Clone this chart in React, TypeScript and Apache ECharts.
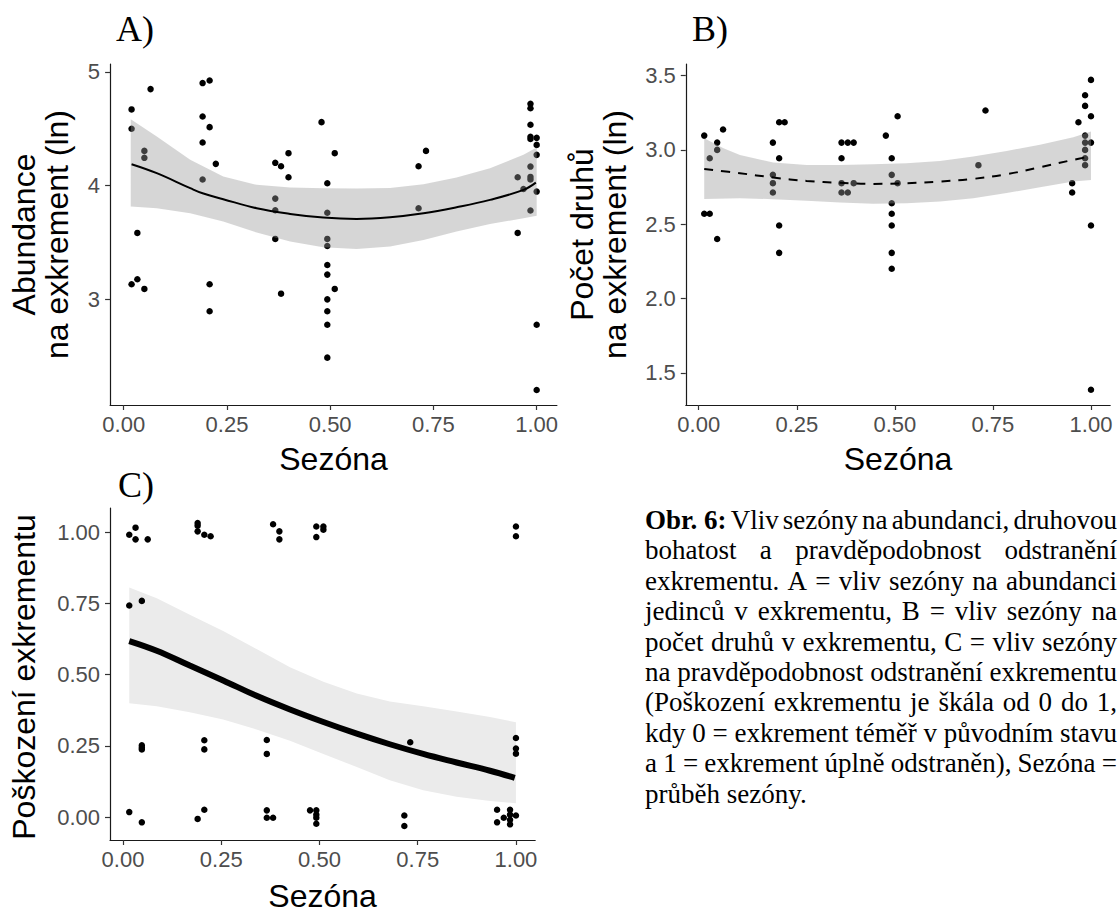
import React, { useEffect, useRef } from "react";
import * as echarts from "echarts";

// ---------------- data ----------------
const xTicks = [0, 0.25, 0.5, 0.75, 1];
const yTicksA = [3, 4, 5];
const yTicksB = [1.5, 2.0, 2.5, 3.0, 3.5];
const yTicksC = [0, 0.25, 0.5, 0.75, 1];

// Panel A: season vs abundance (ln)
const pointsA = [
  [0.019, 4.67], [0.019, 4.5], [0.05, 4.305], [0.05, 4.244], [0.065, 4.849], [0.033, 3.583], [0.019, 3.131], [0.033, 3.175], [0.05, 3.09],
  [0.191, 4.902], [0.208, 4.925], [0.191, 4.608], [0.208, 4.514], [0.191, 4.379], [0.223, 4.191], [0.191, 4.053], [0.208, 3.131], [0.208, 2.893],
  [0.367, 4.2], [0.381, 4.17], [0.399, 4.285], [0.399, 4.073], [0.367, 3.885], [0.367, 3.783], [0.367, 3.53], [0.381, 3.048],
  [0.479, 4.558], [0.511, 4.285], [0.493, 4.02], [0.493, 3.76], [0.493, 3.53], [0.493, 3.468], [0.493, 3.3], [0.493, 3.216], [0.511, 3.09], [0.493, 2.998], [0.493, 2.893], [0.493, 2.775], [0.493, 2.485],
  [0.714, 4.17], [0.732, 4.305], [0.714, 3.8],
  [0.954, 4.073], [0.954, 3.583], [0.968, 3.97], [0.985, 4.72], [0.985, 4.68], [0.985, 4.535], [0.985, 4.43], [0.985, 4.41], [0.985, 4.167], [0.985, 4.076], [0.985, 4.053], [0.985, 3.78],
  [1.0, 4.42], [1.0, 4.358], [1.0, 4.27], [1.0, 3.947], [1.0, 2.775], [1.0, 2.2],
];
const fitA = [
  [0.019, 4.188], [0.08, 4.109], [0.161, 3.977], [0.191, 3.932], [0.241, 3.88], [0.322, 3.8], [0.403, 3.75], [0.483, 3.718],
  [0.564, 3.706], [0.645, 3.721], [0.726, 3.756], [0.806, 3.809], [0.887, 3.874], [0.968, 3.962], [0.998, 4.026],
];
const upperA = [
  [0.017, 4.584], [0.08, 4.432], [0.161, 4.226], [0.241, 4.079], [0.322, 4.006], [0.403, 3.982], [0.483, 3.976], [0.564, 3.974],
  [0.645, 3.979], [0.726, 4.012], [0.806, 4.07], [0.887, 4.153], [0.968, 4.27], [1.0, 4.335],
];
const lowerA = [
  [0.017, 3.815], [0.08, 3.8], [0.161, 3.756], [0.241, 3.683], [0.322, 3.586], [0.403, 3.507], [0.483, 3.457], [0.564, 3.442],
  [0.645, 3.463], [0.726, 3.521], [0.806, 3.595], [0.887, 3.662], [0.968, 3.712], [1.0, 3.733],
];

// Panel B: season vs species count (ln)
const pointsB = [
  [0.014, 3.096], [0.028, 2.944], [0.047, 3.049], [0.047, 3.0], [0.062, 3.137], [0.014, 2.57], [0.028, 2.57], [0.047, 2.4],
  [0.189, 3.049], [0.205, 3.186], [0.219, 3.186], [0.205, 2.944], [0.189, 2.832], [0.189, 2.776], [0.189, 2.713], [0.205, 2.491], [0.205, 2.307],
  [0.364, 3.049], [0.38, 3.049], [0.395, 3.049], [0.364, 2.944], [0.364, 2.776], [0.395, 2.776], [0.364, 2.713], [0.38, 2.713],
  [0.477, 3.096], [0.507, 3.226], [0.492, 2.944], [0.492, 2.832], [0.507, 2.776], [0.492, 2.641], [0.492, 2.57], [0.492, 2.491], [0.492, 2.307], [0.492, 2.2],
  [0.731, 3.265], [0.713, 2.897],
  [0.952, 2.776], [0.952, 2.713], [0.968, 3.186], [0.985, 3.368], [0.985, 3.296], [0.985, 3.096], [0.985, 3.049], [0.985, 3.0], [0.985, 2.944], [0.985, 2.897],
  [1.0, 3.471], [1.0, 3.226], [1.0, 3.049], [1.0, 2.491], [1.0, 1.386],
];
const fitB = [
  [0.014, 2.872], [0.105, 2.843], [0.19, 2.814], [0.275, 2.791], [0.36, 2.778], [0.445, 2.771], [0.53, 2.776],
  [0.615, 2.787], [0.7, 2.805], [0.785, 2.836], [0.87, 2.883], [0.955, 2.933], [0.997, 2.955],
];
const upperB = [
  [0.014, 3.078], [0.063, 3.011], [0.105, 2.966], [0.19, 2.915], [0.275, 2.899], [0.36, 2.899], [0.445, 2.904], [0.53, 2.91],
  [0.615, 2.926], [0.7, 2.955], [0.785, 2.993], [0.87, 3.034], [0.955, 3.085], [1.0, 3.123],
];
const lowerB = [
  [0.014, 2.67], [0.105, 2.675], [0.19, 2.668], [0.275, 2.657], [0.36, 2.646], [0.445, 2.637], [0.53, 2.641],
  [0.615, 2.652], [0.7, 2.675], [0.785, 2.709], [0.87, 2.749], [0.955, 2.787], [1.0, 2.798],
];

// Panel C: season vs damage of excrement
const pointsC = [
  [0.016, 0.991], [0.032, 1.016], [0.032, 0.975], [0.063, 0.975], [0.016, 0.743], [0.048, 0.759], [0.048, 0.252], [0.048, 0.244], [0.048, 0.238], [0.016, 0.018], [0.048, -0.018],
  [0.19, 1.032], [0.19, 1.023], [0.19, 1.003], [0.207, 0.991], [0.223, 0.986], [0.207, 0.27], [0.207, 0.238], [0.19, -0.006], [0.207, 0.026],
  [0.382, 1.028], [0.398, 1.003], [0.398, 0.975], [0.366, 0.271], [0.366, 0.222], [0.366, 0.024], [0.366, -0.002], [0.382, -0.002],
  [0.492, 1.02], [0.492, 0.983], [0.51, 1.02], [0.51, 1.009], [0.476, 0.024], [0.492, 0.024], [0.492, 0.009], [0.492, -0.002], [0.492, -0.023],
  [0.731, 0.263], [0.716, 0.006], [0.716, -0.031],
  [1.0, 1.02], [1.0, 0.986], [1.0, 0.278], [1.0, 0.241], [1.0, 0.223], [0.952, 0.026], [0.952, -0.018], [0.969, -0.002],
  [0.985, 0.026], [0.985, 0.009], [0.985, -0.009], [0.985, -0.025], [1.0, 0.006],
];
const fitC = [
  [0.016, 0.618], [0.086, 0.584], [0.17, 0.532], [0.255, 0.48], [0.34, 0.426], [0.425, 0.378], [0.51, 0.334],
  [0.595, 0.293], [0.679, 0.256], [0.764, 0.222], [0.849, 0.192], [0.934, 0.163], [0.997, 0.138],
];
const upperC = [
  [0.016, 0.806], [0.086, 0.768], [0.17, 0.71], [0.255, 0.653], [0.34, 0.59], [0.425, 0.526], [0.51, 0.475],
  [0.595, 0.434], [0.679, 0.406], [0.764, 0.389], [0.849, 0.371], [0.934, 0.352], [1.0, 0.333],
];
const lowerC = [
  [0.016, 0.4], [0.086, 0.389], [0.17, 0.368], [0.255, 0.343], [0.34, 0.308], [0.425, 0.268], [0.51, 0.222],
  [0.595, 0.176], [0.679, 0.13], [0.764, 0.095], [0.849, 0.072], [0.934, 0.057], [1.0, 0.049],
];

const xTitle = "Sezóna";
const yTitleA = "Abundance\nna exkrement (ln)";
const yTitleB = "Počet druhů\nna exkrement (ln)";
const yTitleC = "Poškození exkrementu";
const panelLabels = ["A)", "B)", "C)"];

const captionBold = "Obr. 6:";
const captionLines = [
  "Obr. 6: Vliv sezóny na abundanci, druhovou",
  "bohatost a pravděpodobnost odstranění",
  "exkrementu. A = vliv sezóny na abundanci",
  "jedinců v exkrementu, B = vliv sezóny na",
  "počet druhů v exkrementu, C = vliv sezóny",
  "na pravděpodobnost odstranění exkrementu",
  "(Poškození exkrementu je škála od 0 do 1,",
  "kdy 0 = exkrement téměř v původním stavu",
  "a 1 = exkrement úplně odstraněn), Sezóna =",
  "průběh sezóny.",
];

// ---------------- styling ----------------
const SANS = '"Liberation Sans", Arial, sans-serif';
const SERIF = '"Liberation Serif", "Times New Roman", serif';
const TICK_COLOR = "#4d4d4d";

function makeX(gridIndex: number, nameGap: number) {
  return {
    type: "value",
    gridIndex,
    min: -0.033,
    max: 1.049,
    name: xTitle,
    nameLocation: "middle",
    nameGap,
    nameTextStyle: { fontSize: 32, color: "#000", fontFamily: SANS },
    axisLine: { show: true, onZero: false, lineStyle: { color: "#1a1a1a", width: 1.2 } },
    axisTick: { show: true, length: 5, inside: false, customValues: xTicks, lineStyle: { color: "#333", width: 1.2 } },
    axisLabel: {
      customValues: xTicks,
      formatter: (v: number) => v.toFixed(2),
      color: TICK_COLOR,
      fontSize: 22,
      fontFamily: SANS,
      margin: 8,
    },
    splitLine: { show: false },
  };
}

function makeY(gridIndex: number, min: number, max: number, ticks: number[], digits: number) {
  return {
    type: "value",
    gridIndex,
    min,
    max,
    axisLine: { show: true, onZero: false, lineStyle: { color: "#1a1a1a", width: 1.2 } },
    axisTick: { show: true, length: 5, inside: false, customValues: ticks, lineStyle: { color: "#333", width: 1.2 } },
    axisLabel: {
      customValues: ticks,
      formatter: (v: number) => v.toFixed(digits),
      color: TICK_COLOR,
      fontSize: 22,
      fontFamily: SANS,
      margin: 10,
    },
    splitLine: { show: false },
  };
}

function bandSeries(idx: number, upper: number[][], lower: number[][], fill: string, z: number) {
  return {
    type: "custom",
    xAxisIndex: idx,
    yAxisIndex: idx,
    z,
    silent: true,
    clip: false,
    data: [upper[0]],
    renderItem: (_params: any, api: any) => {
      const pts = upper.map((p) => api.coord(p)).concat(lower.slice().reverse().map((p) => api.coord(p)));
      return { type: "polygon", shape: { points: pts }, style: { fill, stroke: "none" } };
    },
  };
}

function scatterSeries(idx: number, data: number[][], z: number) {
  return {
    type: "scatter",
    xAxisIndex: idx,
    yAxisIndex: idx,
    z,
    silent: true,
    symbol: "circle",
    symbolSize: 6.5,
    itemStyle: { color: "#000", opacity: 1 },
    data,
  };
}

function lineSeries(idx: number, data: number[][], width: number, dash: any, z: number) {
  return {
    type: "line",
    xAxisIndex: idx,
    yAxisIndex: idx,
    z,
    silent: true,
    smooth: 0.4,
    symbol: "none",
    showSymbol: false,
    lineStyle: { color: "#000", width, type: dash },
    data,
  };
}

function textEl(text: string, x: number, y: number, opts: any) {
  return {
    type: "text",
    x,
    y,
    rotation: opts.rotation || 0,
    silent: true,
    style: {
      text,
      fill: opts.fill || "#000",
      fontSize: opts.fontSize,
      fontFamily: opts.fontFamily,
      fontWeight: opts.fontWeight || "normal",
      lineHeight: opts.lineHeight,
      align: opts.align || "left",
      textAlign: opts.align || "left",
      verticalAlign: "middle",
      textVerticalAlign: "middle",
    },
  };
}

function captionElements() {
  const els: any[] = [];
  const left = 645;
  const width = 472;
  const size = 27;
  const firstCentral = 520;
  const pitch = 30.4;
  const canvas = document.createElement("canvas");
  const ctx = canvas.getContext("2d") as CanvasRenderingContext2D;
  const measure = (t: string, bold: boolean) => {
    ctx.font = `${bold ? "bold " : ""}${size}px ${SERIF}`;
    return ctx.measureText(t).width;
  };
  captionLines.forEach((line, i) => {
    const y = firstCentral + i * pitch;
    const tokens: { t: string; bold: boolean }[] = [];
    let rest = line;
    if (line.startsWith(captionBold)) {
      tokens.push({ t: captionBold, bold: true });
      rest = line.slice(captionBold.length).trim();
    }
    rest.split(" ").forEach((w) => tokens.push({ t: w, bold: false }));
    const last = i === captionLines.length - 1;
    if (last) {
      els.push(textEl(line, left, y, { fontSize: size, fontFamily: SERIF }));
      return;
    }
    const widths = tokens.map((tk) => measure(tk.t, tk.bold));
    const total = widths.reduce((a, b) => a + b, 0);
    const gap = (width - total) / (tokens.length - 1);
    let x = left;
    tokens.forEach((tk, j) => {
      els.push(textEl(tk.t, x, y, { fontSize: size, fontFamily: SERIF, fontWeight: tk.bold ? "bold" : "normal" }));
      x += widths[j] + gap;
    });
  });
  return els;
}

export default function App() {
  const ref = useRef<HTMLDivElement>(null);
  useEffect(() => {
    if (!ref.current) return;
    const chart = echarts.init(ref.current, null, { renderer: "svg" });
    const graphics: any[] = [
      textEl(panelLabels[0], 116, 29, { fontSize: 36, fontFamily: SERIF }),
      textEl(panelLabels[1], 692, 29, { fontSize: 36, fontFamily: SERIF }),
      textEl(panelLabels[2], 118, 485, { fontSize: 36, fontFamily: SERIF }),
      textEl(yTitleA, 40, 234.5, { fontSize: 32, fontFamily: SANS, align: "center", rotation: Math.PI / 2, lineHeight: 33 }),
      textEl(yTitleB, 598, 234.5, { fontSize: 32, fontFamily: SANS, align: "center", rotation: Math.PI / 2, lineHeight: 33 }),
      textEl(yTitleC, 24, 677, { fontSize: 32, fontFamily: SANS, align: "center", rotation: Math.PI / 2 }),
      ...captionElements(),
    ];
    chart.setOption({
      animation: false,
      backgroundColor: "#fff",
      grid: [
        { left: 110.1, top: 64, width: 446.8, height: 341 },
        { left: 685.8, top: 64, width: 424.4, height: 341 },
        { left: 110, top: 508, width: 425.2, height: 338 },
      ],
      xAxis: [makeX(0, 38), makeX(1, 38), makeX(2, 40)],
      yAxis: [
        makeY(0, 2.068, 5.07, yTicksA, 0),
        makeY(1, 1.283, 3.578, yTicksB, 1),
        makeY(2, -0.08, 1.085, yTicksC, 2),
      ],
      series: [
        scatterSeries(0, pointsA, 2),
        bandSeries(0, upperA, lowerA, "rgba(153,153,153,0.4)", 3),
        lineSeries(0, fitA, 2, "solid", 4),
        scatterSeries(1, pointsB, 2),
        bandSeries(1, upperB, lowerB, "rgba(153,153,153,0.4)", 3),
        lineSeries(1, fitB, 2, [9, 8], 4),
        bandSeries(2, upperC, lowerC, "#ebebeb", 1),
        lineSeries(2, fitC, 6, "solid", 2),
        scatterSeries(2, pointsC, 3),
      ],
      graphic: { elements: graphics },
    });
    return () => chart.dispose();
  }, []);
  return (
    <div
      ref={ref}
      style={{ position: "fixed", left: 0, top: 0, width: 1118, height: 913, background: "#fff" }}
    />
  );
}
